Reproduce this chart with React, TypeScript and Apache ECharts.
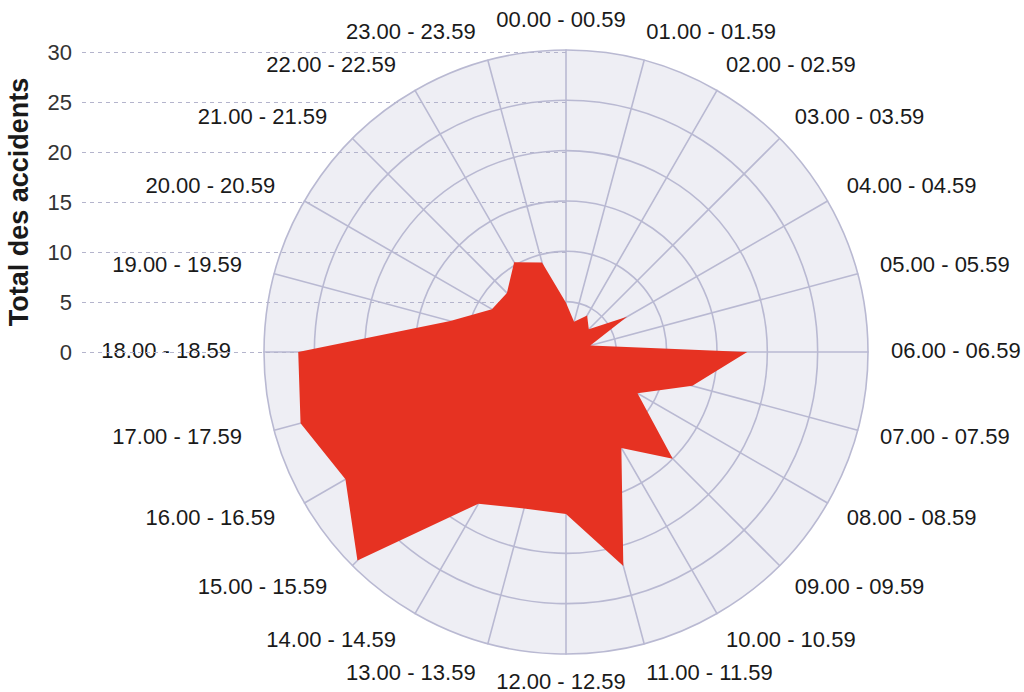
import React, { useEffect, useRef } from "react";
import * as echarts from "echarts";

const hours = [
  "00.00 - 00.59", "01.00 - 01.59", "02.00 - 02.59", "03.00 - 03.59",
  "04.00 - 04.59", "05.00 - 05.59", "06.00 - 06.59", "07.00 - 07.59",
  "08.00 - 08.59", "09.00 - 09.59", "10.00 - 10.59", "11.00 - 11.59",
  "12.00 - 12.59", "13.00 - 13.59", "14.00 - 14.59", "15.00 - 15.59",
  "16.00 - 16.59", "17.00 - 17.59", "18.00 - 18.59", "19.00 - 19.59",
  "20.00 - 20.59", "21.00 - 21.59", "22.00 - 22.59", "23.00 - 23.59",
];

const accidents = [
  4.9, 3.1, 4.2, 3.2, 7, 2.5, 18, 13, 8.2, 15, 11, 22,
  16.1, 16.1, 17.4, 29.3, 25.3, 27.3, 26.6, 11.9, 8.5, 8.3, 10.3, 9.2,
];

const yTicks = [0, 5, 10, 15, 20, 25, 30];
const axisTitle = "Total des accidents";
const maxValue = 30;

const FONT = "'Liberation Sans', Arial, sans-serif";

export default function App() {
  const ref = useRef<HTMLDivElement>(null);

  useEffect(() => {
    if (!ref.current) return;
    const chart = echarts.init(ref.current, null, { renderer: "svg" });

    // clockwise order: 00 at top, then ECharts goes counter-clockwise, so list 23, 22, ... 01
    const order = [0, ...Array.from({ length: 23 }, (_, i) => 23 - i)];
    const indicators = order.map((i) => ({ name: hours[i], max: maxValue, min: 0 }));
    const values = order.map((i) => accidents[i]);

    // per-label rich styles: push non-vertical labels slightly further out
    const rich: Record<string, any> = {};
    hours.forEach((_, h) => {
      const theta = (h * 15 * Math.PI) / 180;
      const s = Math.sin(theta);
      const c = Math.cos(theta);
      const vertical = h === 0 || h === 12;
      const extra = vertical ? 0 : 8;
      const ph = Math.round(extra * Math.abs(s));
      const pvUp = Math.round(2 * extra * Math.abs(c));
      const pvDown = Math.round(2 * (extra + 4) * Math.abs(c));
      const pad = [
        c < -0.01 && !vertical ? pvDown : 0, // top (lower labels)
        s < -0.01 ? ph : 0, // right (left-side labels)
        c > 0.01 && !vertical ? pvUp : 0, // bottom (upper labels)
        s > 0.01 ? ph : 0, // left (right-side labels)
      ];
      rich["h" + h] = {
        fontFamily: FONT,
        fontSize: 22,
        color: "#1a1a1a",
        padding: pad,
        lineHeight: vertical ? 18 : 22,
      };
    });

    const hidden = { show: false };

    chart.setOption({
      animation: false,
      grid: { left: 82, right: 458, top: 52, bottom: 340 },
      xAxis: { type: "value", show: false, min: 0, max: 1 },
      yAxis: {
        type: "value",
        min: yTicks[0],
        max: yTicks[yTicks.length - 1],
        interval: 5,
        z: 1,
        name: axisTitle,
        nameLocation: "middle",
        nameRotate: 90,
        nameGap: 50,
        nameTextStyle: { fontFamily: FONT, fontSize: 27, fontWeight: "bold", color: "#1a1a1a" },
        axisLine: { show: false },
        axisTick: { show: false },
        axisLabel: { fontFamily: FONT, fontSize: 22, color: "#333", margin: 10 },
        splitLine: { show: true, lineStyle: { type: [4, 4], color: "#b4b4cc", width: 1.2 } },
      },
      radar: [
        {
          z: 0,
          center: [566, 352],
          radius: 302,
          shape: "circle",
          splitNumber: 6,
          indicator: indicators,
          axisName: hidden,
          axisLine: { lineStyle: { color: "#b9b9d2", width: 1.6 } },
          splitLine: { lineStyle: { color: "#b9b9d2", width: 1.6 } },
          splitArea: { show: true, areaStyle: { color: ["#eeeef4"] } },
          axisTick: hidden,
          axisLabel: hidden,
        },
        {
          z: 0,
          center: [561, 350],
          radius: 302,
          shape: "circle",
          splitNumber: 6,
          indicator: indicators,
          nameGap: 20,
          axisName: {
            fontFamily: FONT,
            fontSize: 22,
            color: "#1a1a1a",
            formatter: (name: string) => `{h${hours.indexOf(name)}|${name}}`,
            rich,
          },
          axisLine: hidden,
          splitLine: hidden,
          splitArea: hidden,
          axisTick: hidden,
          axisLabel: hidden,
        },
      ],
      series: [
        {
          type: "radar",
          radarIndex: 0,
          z: 3,
          symbol: "none",
          lineStyle: { width: 0 },
          areaStyle: { color: "#e63222", opacity: 1 },
          data: [{ value: values, name: axisTitle }],
        },
      ],
    });

    return () => chart.dispose();
  }, []);

  return (
    <div
      ref={ref}
      style={{ position: "fixed", left: 0, top: 0, width: 1024, height: 692, background: "#fff" }}
    />
  );
}
